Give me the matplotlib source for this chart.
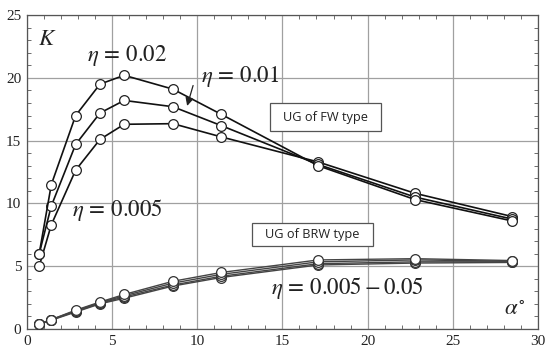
import matplotlib
matplotlib.use("Agg")
import matplotlib.pyplot as plt
from matplotlib.patches import Rectangle
from matplotlib.ticker import MultipleLocator

plt.rcParams['mathtext.fontset'] = 'stix'

alpha = [0.72, 1.43, 2.86, 4.29, 5.71, 8.57, 11.4, 17.1, 22.8, 28.5]

fw_eta_002 = [6.0, 11.5, 17.0, 19.5, 20.2, 19.1, 17.1, 13.0, 10.3, 8.6]
fw_eta_001 = [6.0, 9.8, 14.7, 17.2, 18.2, 17.7, 16.2, 13.1, 10.5, 8.75]
fw_eta_0005 = [5.0, 8.3, 12.65, 15.1, 16.3, 16.35, 15.3, 13.3, 10.8, 8.95]

brw_1 = [0.40, 0.75, 1.50, 2.15, 2.75, 3.80, 4.50, 5.50, 5.60, 5.45]
brw_2 = [0.40, 0.75, 1.45, 2.10, 2.65, 3.65, 4.35, 5.35, 5.50, 5.40]
brw_3 = [0.40, 0.72, 1.40, 2.05, 2.55, 3.50, 4.20, 5.20, 5.35, 5.35]
brw_4 = [0.38, 0.70, 1.35, 2.00, 2.45, 3.42, 4.10, 5.10, 5.25, 5.30]

fig = plt.figure(figsize=(5.5, 3.58), dpi=100)
ax = fig.add_axes([0.049, 0.081, 0.929, 0.877])

ax.set_xlim(0, 30)
ax.set_ylim(0, 25)
ax.xaxis.set_major_locator(MultipleLocator(5))
ax.yaxis.set_major_locator(MultipleLocator(5))
ax.xaxis.set_minor_locator(MultipleLocator(1))
ax.yaxis.set_minor_locator(MultipleLocator(1))
ax.grid(True, which='major', color='#a0a0a0', lw=0.9)
ax.set_axisbelow(True)
ax.tick_params(which='both', direction='in', top=True, right=True,
               color='#555555', labelsize=11, pad=4, labelcolor='#222222')
ax.tick_params(which='major', length=0)
ax.tick_params(which='minor', length=3, width=0.6)
for lab in ax.get_xticklabels() + ax.get_yticklabels():
    lab.set_fontfamily('Liberation Serif')
for s in ax.spines.values():
    s.set_color('#555555')
    s.set_linewidth(0.9)

for ys in [brw_4, brw_3, brw_2, brw_1]:
    ax.plot(alpha, ys, color='#444444', lw=1.0, marker='o', ms=7,
            mfc='white', mec='#333333', mew=0.9, zorder=3)

for ys in [fw_eta_0005, fw_eta_001, fw_eta_002]:
    ax.plot(alpha, ys, color='#111111', lw=1.2, marker='o', ms=7,
            mfc='white', mec='#222222', mew=0.9, zorder=4)

tk = dict(fontsize=16.5, color='#222222', ha='center', va='center', zorder=6)
ax.text(1.18, 23.1, r'$K$', **tk)
ax.text(5.87, 21.8, r'$\eta\,=\,0.02$', **tk)
ax.text(12.5, 20.1, r'$\eta\,=\,0.01$', **tk)
ax.text(5.28, 9.45, r'$\eta\,=\,0.005$', **tk)
ax.text(18.8, 3.23, r'$\eta\,=\,0.005-0.05$', **tk)
ax.text(28.6, 1.63, r'$\alpha^{\circ}$', **tk)

ax.annotate('', xy=(9.36, 17.55), xytext=(9.8, 19.6),
            arrowprops=dict(arrowstyle='-|>', color='#222222', lw=0.9,
                            mutation_scale=12), zorder=6)

def box(x0, y0, x1, y1, label):
    r = Rectangle((x0, y0), x1 - x0, y1 - y0, fc='white', ec='#555555',
                  lw=0.9, zorder=5)
    ax.add_patch(r)
    ax.text((x0 + x1) / 2, (y0 + y1) / 2, label, fontsize=9.2,
            family='Open Sans', color='#222222', ha='center', va='center',
            zorder=6)

box(14.27, 15.75, 20.78, 17.98, 'UG of FW type')
box(13.22, 6.62, 20.31, 8.45, 'UG of BRW type')

fig.savefig('out.png', dpi=100)
